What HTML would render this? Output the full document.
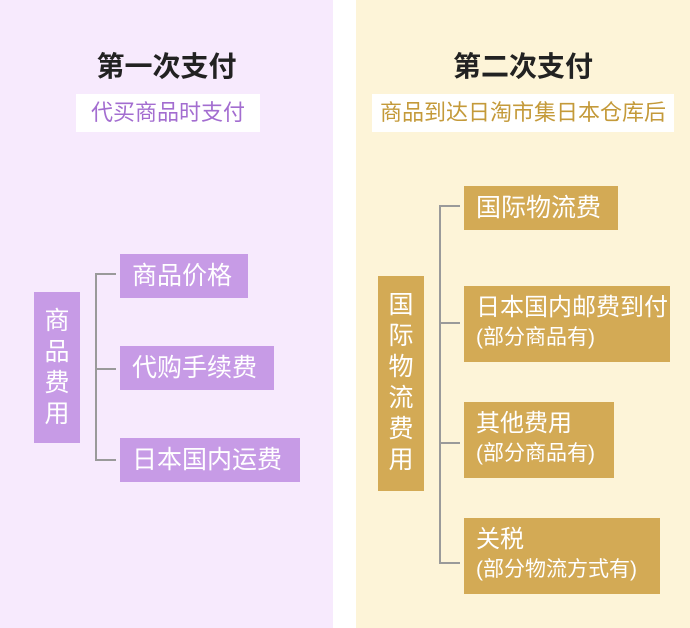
<!DOCTYPE html>
<html><head><meta charset="utf-8"><style>
*{margin:0;padding:0;box-sizing:border-box}
body{width:690px;height:628px;background:#fff;position:relative;overflow:hidden;font-family:"Liberation Sans","Noto Sans CJK SC",sans-serif}
.a{position:absolute}
.t{font-size:28px;font-weight:bold;color:#222;text-align:center;line-height:34px}
.s{background:#fff;font-size:22px;text-align:center;line-height:38px}
.b{color:#fff;font-size:25px;line-height:44px;padding-left:12px;white-space:nowrap}
.p{background:#c79be6}.g{background:#d3aa55}
.v{color:#fff;font-size:25px;text-align:center;line-height:31px}
.l{background:#9a9a9a}
.two{font-size:24px;line-height:32px;padding-top:6px}.two small{font-size:21px;display:block;line-height:28px}
</style></head><body>
<div class="a" style="left:0;top:0;width:333px;height:628px;background:#f7eafd"></div>
<div class="a" style="left:356px;top:0;width:334px;height:628px;background:#fdf4d8"></div>

<div class="a t" style="left:0;width:333px;top:50px">第一次支付</div>
<div class="a s" style="left:76px;top:94px;width:184px;color:#a36dd0">代买商品时支付</div>
<div class="a p v" style="left:34px;top:292px;width:46px;height:151px;padding-top:14px">商<br>品<br>费<br>用</div>
<div class="a l" style="left:95px;top:273px;width:2px;height:188px"></div>
<div class="a l" style="left:95px;top:273px;width:21px;height:2px"></div>
<div class="a l" style="left:95px;top:368px;width:21px;height:2px"></div>
<div class="a l" style="left:95px;top:459px;width:21px;height:2px"></div>
<div class="a p b" style="left:120px;top:254px;width:128px;height:44px">商品价格</div>
<div class="a p b" style="left:120px;top:346px;width:154px;height:44px">代购手续费</div>
<div class="a p b" style="left:120px;top:438px;width:180px;height:44px">日本国内运费</div>

<div class="a t" style="left:356px;width:334px;top:50px">第二次支付</div>
<div class="a s" style="left:372px;top:94px;width:302px;color:#c49a3a">商品到达日淘市集日本仓库后</div>
<div class="a g v" style="left:378px;top:276px;width:46px;height:215px;padding-top:14px">国<br>际<br>物<br>流<br>费<br>用</div>
<div class="a l" style="left:439px;top:205px;width:2px;height:359px"></div>
<div class="a l" style="left:439px;top:205px;width:21px;height:2px"></div>
<div class="a l" style="left:439px;top:322px;width:21px;height:2px"></div>
<div class="a l" style="left:439px;top:442px;width:21px;height:2px"></div>
<div class="a l" style="left:439px;top:562px;width:21px;height:2px"></div>
<div class="a g b" style="left:464px;top:186px;width:154px;height:44px">国际物流费</div>
<div class="a g b two" style="left:464px;top:286px;width:206px;height:76px">日本国内邮费到付<small>(部分商品有)</small></div>
<div class="a g b two" style="left:464px;top:402px;width:150px;height:76px">其他费用<small>(部分商品有)</small></div>
<div class="a g b two" style="left:464px;top:518px;width:196px;height:76px">关税<small>(部分物流方式有)</small></div>
</body></html>
